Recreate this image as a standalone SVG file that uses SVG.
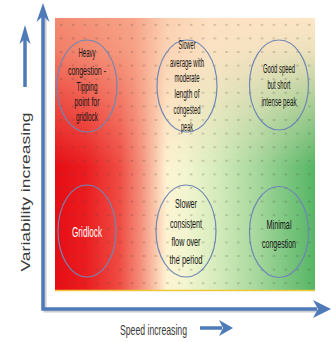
<svg xmlns="http://www.w3.org/2000/svg" width="331" height="342" viewBox="0 0 331 342">
<defs>
<style>
.ring{fill:none;stroke:#6f87b5;stroke-width:1.2}
.t{font-family:"Liberation Sans",Arial,sans-serif;fill:#141414}
.s11{font-size:12.5px}
.s12{font-size:13.5px}
.axis{stroke:#4e7ab8;stroke-width:3.5;fill:none}
.head{fill:#4e7ab8}
.shadow{stroke:#9a9aa6;stroke-width:3;fill:none;opacity:0.5}
.lbl{font-family:"Liberation Sans",Arial,sans-serif;fill:#3a3a3a}
</style>
<linearGradient id="base" x1="55" y1="0" x2="315" y2="0" gradientUnits="userSpaceOnUse">
<stop offset="0" stop-color="#e60d14"/>
<stop offset="0.12" stop-color="#ea1d20"/>
<stop offset="0.25" stop-color="#ef4d44"/>
<stop offset="0.33" stop-color="#f48f7c"/>
<stop offset="0.40" stop-color="#fbd6b8"/>
<stop offset="0.43" stop-color="#fdf3d2"/>
<stop offset="0.50" stop-color="#f3f5d0"/>
<stop offset="0.62" stop-color="#d6ecbc"/>
<stop offset="0.78" stop-color="#a5d79c"/>
<stop offset="1" stop-color="#55b565"/>
</linearGradient>
<linearGradient id="top" x1="55" y1="0" x2="315" y2="0" gradientUnits="userSpaceOnUse">
<stop offset="0" stop-color="#f28a70"/>
<stop offset="0.3" stop-color="#f6a488"/>
<stop offset="0.43" stop-color="#fbcfb0"/>
<stop offset="0.6" stop-color="#fde0c2"/>
<stop offset="1" stop-color="#fde6c6"/>
</linearGradient>
<linearGradient id="fade" x1="0" y1="18" x2="0" y2="290" gradientUnits="userSpaceOnUse">
<stop offset="0" stop-color="#fff"/>
<stop offset="0.12" stop-color="#fff" stop-opacity="0.9"/>
<stop offset="0.55" stop-color="#fff" stop-opacity="0"/>
</linearGradient>
<mask id="m"><rect x="55" y="18" width="260" height="272" fill="url(#fade)"/></mask>
<pattern id="dots" x="55" y="18" width="11.82" height="13.6" patternUnits="userSpaceOnUse">
<rect x="4.9" y="6.3" width="2.4" height="1" fill="#444" opacity="0.45"/>
</pattern>
</defs>

<g id="heatmap">
<rect x="55" y="18" width="260" height="272" fill="url(#base)"/>
<rect x="55" y="18" width="260" height="272" fill="url(#top)" mask="url(#m)"/>
<rect x="55" y="18" width="260" height="272" fill="url(#dots)"/>
<line x1="55" y1="290.5" x2="315" y2="290.5" stroke="#ecc83a" stroke-width="1.5"/>
</g>

<g id="connectors">
<path class="shadow" d="M45 16 V311 H318"/>
<path class="axis" d="M43 15 V309 H317"/>
<polygon class="head" points="43,3 49.5,22 43,16 36.5,22"/>
<polygon class="head" points="331,309 313,300 318,309 313,318"/>
<line class="axis" x1="25" y1="38" x2="25" y2="87"/>
<polygon class="head" points="25,25 30.5,44 25,39 19.5,44"/>
<line class="axis" x1="200" y1="328" x2="222" y2="328"/>
<polygon class="head" points="233,328 219,320 223,328 219,336"/>
</g>

<g id="label-y">
<text class="lbl" font-size="13" transform="translate(29.5,192) rotate(-90)" x="-79.5" y="0" textLength="159" lengthAdjust="spacingAndGlyphs">Variability increasing</text>
</g>
<g id="label-x">
<text class="lbl" font-size="15" x="120" y="335" textLength="67" lengthAdjust="spacingAndGlyphs">Speed increasing</text>
</g>

<g id="heavy-congestion">
<ellipse class="ring" cx="87" cy="86" rx="30" ry="46"/>
<text class="t s11" x="78.5" y="57" textLength="17" lengthAdjust="spacingAndGlyphs">Heavy</text>
<text class="t s11" x="68" y="75" textLength="38" lengthAdjust="spacingAndGlyphs">congestion -</text>
<text class="t s11" x="76.5" y="91" textLength="21" lengthAdjust="spacingAndGlyphs">Tipping</text>
<text class="t s11" x="74.5" y="106" textLength="25" lengthAdjust="spacingAndGlyphs">point for</text>
<text class="t s11" x="76" y="121" textLength="22" lengthAdjust="spacingAndGlyphs">gridlock</text>
</g>

<g id="slower-average">
<ellipse class="ring" cx="187" cy="86" rx="30" ry="46"/>
<text class="t s11" x="178.5" y="49" textLength="17" lengthAdjust="spacingAndGlyphs">Slower</text>
<text class="t s11" x="170" y="67" textLength="34" lengthAdjust="spacingAndGlyphs">average with</text>
<text class="t s11" x="174.5" y="82" textLength="25" lengthAdjust="spacingAndGlyphs">moderate</text>
<text class="t s11" x="174.5" y="98" textLength="25" lengthAdjust="spacingAndGlyphs">length of</text>
<text class="t s11" x="173.5" y="114" textLength="27" lengthAdjust="spacingAndGlyphs">congested</text>
<text class="t s11" x="181" y="131" textLength="12" lengthAdjust="spacingAndGlyphs">peak</text>
</g>

<g id="good-speed">
<ellipse class="ring" cx="279" cy="85" rx="29.5" ry="45"/>
<text class="t s11" x="263" y="73" textLength="32" lengthAdjust="spacingAndGlyphs">Good speed</text>
<text class="t s11" x="267.5" y="89" textLength="23" lengthAdjust="spacingAndGlyphs">but short</text>
<text class="t s11" x="261.5" y="106" textLength="35" lengthAdjust="spacingAndGlyphs">intense peak</text>
</g>

<g id="gridlock">
<ellipse class="ring" cx="87" cy="231" rx="29" ry="46"/>
<text x="72" y="237" font-family="Liberation Sans, Arial, sans-serif" font-size="14" fill="#ffffff" textLength="30" lengthAdjust="spacingAndGlyphs">Gridlock</text>
</g>

<g id="slower-consistent">
<ellipse class="ring" cx="186" cy="231" rx="30" ry="46"/>
<text class="t s12" x="175" y="208" textLength="22" lengthAdjust="spacingAndGlyphs">Slower</text>
<text class="t s12" x="170" y="228" textLength="32" lengthAdjust="spacingAndGlyphs">consistent</text>
<text class="t s12" x="171.5" y="246" textLength="29" lengthAdjust="spacingAndGlyphs">flow over</text>
<text class="t s12" x="169.5" y="264" textLength="33" lengthAdjust="spacingAndGlyphs">the period</text>
</g>

<g id="minimal-congestion">
<ellipse class="ring" cx="279" cy="232" rx="29.5" ry="45.5"/>
<text class="t s12" x="266.5" y="229" textLength="25" lengthAdjust="spacingAndGlyphs">Minimal</text>
<text class="t s12" x="262" y="248" textLength="34" lengthAdjust="spacingAndGlyphs">congestion</text>
</g>
</svg>
